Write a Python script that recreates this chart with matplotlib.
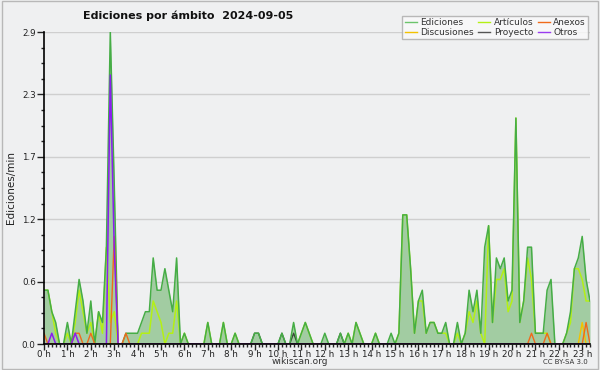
import matplotlib
matplotlib.use("Agg")
import matplotlib.pyplot as plt
import numpy as np
from matplotlib.lines import Line2D
from matplotlib.ticker import MultipleLocator

# values every 10 minutes, 00:00 .. 23:20 (edits per minute), one row per hour
ediciones = [
    0.5, 0.5, 0.3, 0.2, 0.0, 0.0,
    0.2, 0.0, 0.3, 0.6, 0.4, 0.1,
    0.4, 0.0, 0.3, 0.2, 0.9, 2.9,
    1.5, 0.0, 0.0, 0.1, 0.1, 0.1,
    0.1, 0.2, 0.3, 0.3, 0.8, 0.5,
    0.5, 0.7, 0.5, 0.3, 0.8, 0.0,
    0.1, 0.0, 0.0, 0.0, 0.0, 0.0,
    0.2, 0.0, 0.0, 0.0, 0.2, 0.0,
    0.0, 0.1, 0.0, 0.0, 0.0, 0.0,
    0.1, 0.1, 0.0, 0.0, 0.0, 0.0,
    0.0, 0.1, 0.0, 0.0, 0.2, 0.0,
    0.1, 0.2, 0.1, 0.0, 0.0, 0.0,
    0.1, 0.0, 0.0, 0.0, 0.1, 0.0,
    0.1, 0.0, 0.2, 0.1, 0.0, 0.0,
    0.0, 0.1, 0.0, 0.0, 0.0, 0.1,
    0.0, 0.1, 1.2, 1.2, 0.7, 0.1,
    0.4, 0.5, 0.1, 0.2, 0.2, 0.1,
    0.1, 0.2, 0.0, 0.0, 0.2, 0.0,
    0.1, 0.5, 0.3, 0.5, 0.1, 0.9,
    1.1, 0.2, 0.8, 0.7, 0.8, 0.4,
    0.5, 2.1, 0.2, 0.4, 0.9, 0.9,
    0.1, 0.1, 0.1, 0.5, 0.6, 0.0,
    0.0, 0.0, 0.1, 0.3, 0.7, 0.8,
    1.0, 0.6, 0.4,
]
articulos = [
    0.5, 0.5, 0.3, 0.1, 0.0, 0.0,
    0.1, 0.0, 0.2, 0.5, 0.3, 0.1,
    0.2, 0.0, 0.3, 0.1, 0.9, 0.2,
    0.3, 0.0, 0.0, 0.0, 0.0, 0.0,
    0.0, 0.1, 0.1, 0.1, 0.4, 0.3,
    0.2, 0.0, 0.1, 0.1, 0.4, 0.0,
    0.1, 0.0, 0.0, 0.0, 0.0, 0.0,
    0.2, 0.0, 0.0, 0.0, 0.2, 0.0,
    0.0, 0.1, 0.0, 0.0, 0.0, 0.0,
    0.0, 0.0, 0.0, 0.0, 0.0, 0.0,
    0.0, 0.0, 0.0, 0.0, 0.0, 0.0,
    0.1, 0.2, 0.1, 0.0, 0.0, 0.0,
    0.0, 0.0, 0.0, 0.0, 0.0, 0.0,
    0.1, 0.0, 0.2, 0.1, 0.0, 0.0,
    0.0, 0.1, 0.0, 0.0, 0.0, 0.0,
    0.0, 0.1, 1.2, 1.2, 0.7, 0.1,
    0.4, 0.4, 0.1, 0.2, 0.2, 0.1,
    0.1, 0.1, 0.0, 0.0, 0.1, 0.0,
    0.1, 0.3, 0.2, 0.4, 0.1, 0.0,
    1.1, 0.2, 0.6, 0.6, 0.7, 0.3,
    0.4, 2.1, 0.2, 0.4, 0.8, 0.6,
    0.1, 0.1, 0.1, 0.1, 0.0, 0.0,
    0.0, 0.0, 0.1, 0.2, 0.7, 0.7,
    0.6, 0.4, 0.4,
]
# sparse series: index (10-minute slot) -> value
anexos_idx = [0, 8, 9, 12, 18, 21, 125, 129, 139]
anexos_val = [0.1, 0.1, 0.1, 0.1, 1.0, 0.1, 0.1, 0.1, 0.2]
discusiones_idx = [138]
discusiones_val = [0.2]
proyecto_idx = [54, 55, 61, 64, 76]
proyecto_val = [0.1, 0.1, 0.1, 0.1, 0.1]
otros_idx = [2, 8, 17, 18]
otros_val = [0.1, 0.1, 2.5, 0.9]

hour_labels = ["%d h" % h for h in range(24)]

n = len(ediciones)
x = np.arange(n) / 6.0


def sparse(idx, val):
    s = np.zeros(n)
    s[idx] = val
    return s


BG = "#eff0f1"
fig = plt.figure(figsize=(6, 3.7), dpi=100, facecolor=BG)
ax = fig.add_axes([44 / 600, 26 / 370, 546 / 600, 312 / 370], facecolor=BG)

# frame around the image
fig.patches.append(plt.Rectangle((0.003, 0.004), 0.994, 0.992, transform=fig.transFigure,
                                 fill=False, edgecolor="#b8b8b8", lw=1))

ax.fill_between(x, 0, ediciones, color="#a2cca2", lw=0, zorder=2)
ax.plot(x, ediciones, color="#46ad46", lw=1.1, zorder=4)
ax.plot(x, articulos, color="#b4f014", lw=1.1, zorder=3)
ax.plot(x, sparse(proyecto_idx, proyecto_val), color="#3a4a3a", lw=1, zorder=3)
ax.plot(x, sparse(discusiones_idx, discusiones_val), color="#f2c200", lw=1, zorder=5)
ax.plot(x, sparse(anexos_idx, anexos_val), color="#f06a1a", lw=1, zorder=5)
ax.plot(x, sparse(otros_idx, otros_val), color="#8a1ef0", lw=1.1, zorder=5)

ax.set_xlim(0, x[-1])
ax.set_ylim(0, 2.9)
yt = np.linspace(0, 2.9, 6)
ax.set_yticks(yt)
ax.set_yticklabels(["%.1f" % v for v in yt])
ax.yaxis.set_minor_locator(MultipleLocator(2.9 / 20))
ax.set_xticks(np.arange(24))
ax.set_xticklabels(hour_labels)
ax.xaxis.set_minor_locator(MultipleLocator(1 / 6))
ax.tick_params(axis="y", which="major", length=5, width=1, labelsize=6.3,
               colors="#222222", pad=1)
ax.tick_params(axis="x", which="major", length=4, width=1, labelsize=6.3,
               colors="#222222", pad=0)
ax.tick_params(axis="both", which="minor", length=2.5, width=1, color="#222222")
for yv in yt[1:]:
    ax.axhline(yv, color="#cfcfcf", lw=1, zorder=1)
for s in ["top", "right"]:
    ax.spines[s].set_visible(False)
for s in ["left", "bottom"]:
    ax.spines[s].set_linewidth(1.2)
    ax.spines[s].set_zorder(6)

ax.set_ylabel("Ediciones/min", fontsize=7.5, color="#222222", labelpad=4)
fig.text(188 / 600, 1 - 16 / 370, "Ediciones por ámbito  2024-09-05",
         fontsize=8, fontweight="bold", ha="center", va="center", color="#111111")
fig.text(300 / 600, 1 - 362 / 370, "wikiscan.org", fontsize=6.5,
         ha="center", va="center", color="#333333")
fig.text(565 / 600, 1 - 362 / 370, "CC BY-SA 3.0", fontsize=5,
         ha="center", va="center", color="#333333")

handles = [
    Line2D([], [], color="#6cc46c", lw=1, label="Ediciones"),
    Line2D([], [], color="#f2c200", lw=1, label="Discusiones"),
    Line2D([], [], color="#b4f014", lw=1, label="Artículos"),
    Line2D([], [], color="#555555", lw=1, label="Proyecto"),
    Line2D([], [], color="#f06a1a", lw=1, label="Anexos"),
    Line2D([], [], color="#9a3cf0", lw=1, label="Otros"),
]
leg = fig.legend(handles=handles, ncol=3, loc="upper right",
                 bbox_to_anchor=(593 / 600, 1 - 11 / 370), fontsize=6.5,
                 frameon=True, fancybox=False, handlelength=1.3, handletextpad=0.4,
                 columnspacing=0.5, labelspacing=0.05, borderpad=0.3)
leg.get_frame().set_edgecolor("#aaaaaa")
leg.get_frame().set_facecolor("#fafafa")
leg.get_frame().set_linewidth(1)
for t in leg.get_texts():
    t.set_color("#333333")

fig.savefig("out.png", dpi=100, facecolor=BG)
